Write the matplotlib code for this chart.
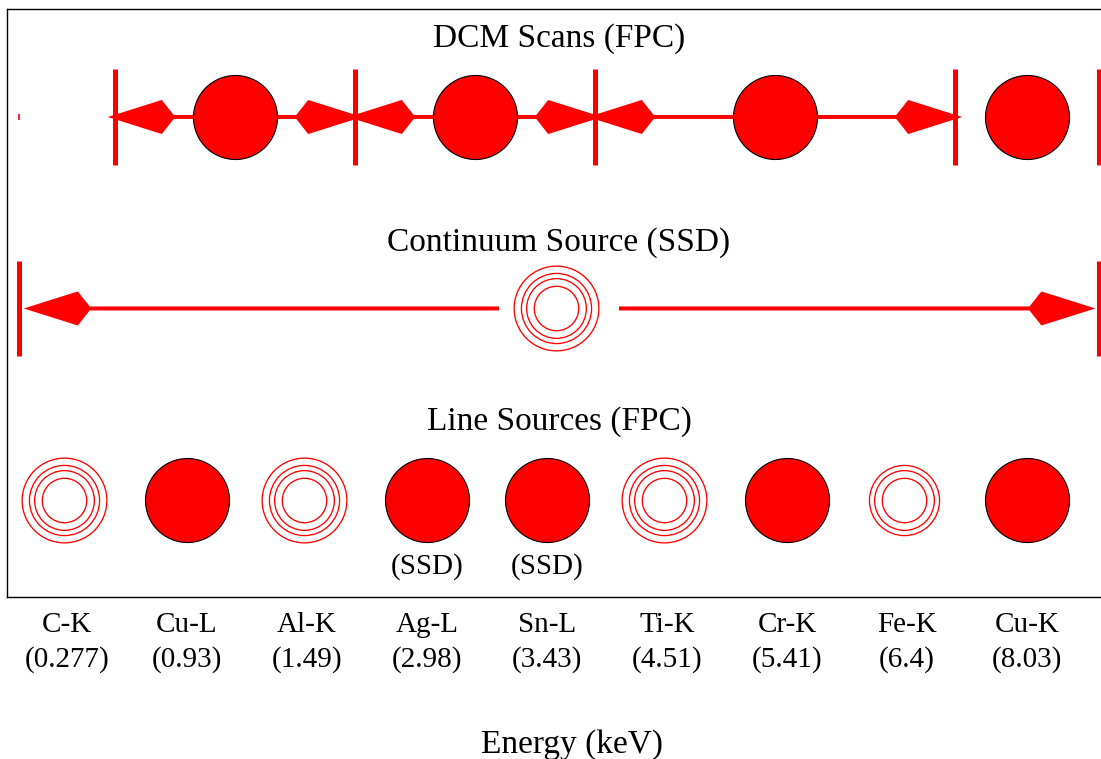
import matplotlib.pyplot as plt
from matplotlib import transforms
from matplotlib.patches import FancyArrow

plt.rcParams['font.family'] = ['Liberation Serif', 'DejaVu Serif']

# Line sources along the energy axis
labels = ['C-K', 'Cu-L', 'Al-K', 'Ag-L', 'Sn-L', 'Ti-K', 'Cr-K', 'Fe-K', 'Cu-K']
energies = ['0.277', '0.93', '1.49', '2.98', '3.43', '4.51', '5.41', '6.4', '8.03']
line_rings = [4, 0, 4, 0, 0, 4, 0, 3, 0]          # 0 = filled circle
line_ssd = [False, False, False, True, True, False, False, False, False]

# DCM scans: scan boundaries (in category units) and which segments get arrows
dcm_edges = [0.4, 2.4, 4.4, 7.4, 8.6]
dcm_arrows = [True, True, True, False]
dcm_stub = -0.4

# Continuum source
cont_start, cont_end = -0.4, 8.6
cont_center = 4.1
cont_rings = 4

RED = '#ff0000'
ring_sizes = [61, 50.5, 43, 32]
fill_size = 60.5
hl, hw, sw, oh = 0.45, 0.178, 0.021, -0.22
bar_half = 0.25

fig = plt.figure(figsize=(11.01, 7.59), dpi=100)
ax = fig.add_axes([7 / 1101, 162 / 759, 1104 / 1101, 588 / 759])
ax.set_xlim(-0.5, 8.7)
ax.set_ylim(-0.507, 2.564)
ring_tr = transforms.offset_copy(ax.transData, fig, x=-3.5, y=0, units='dots')


def arrow(x0, x1, y):
    ax.add_patch(FancyArrow(x0, y, x1 - x0, 0, width=sw, head_width=hw,
                            head_length=hl, overhang=oh,
                            length_includes_head=True, color=RED, lw=0, zorder=2))


def rings(x, y, n):
    for s in ring_sizes[len(ring_sizes) - n:]:
        ax.plot(x, y, 'o', ms=s, mfc='none', mec=RED, mew=0.95,
                transform=ring_tr, zorder=3)


def filled(x, y):
    ax.plot(x, y, 'o', ms=fill_size, mfc=RED, mec='black', mew=0.8, zorder=3)


# DCM scans row
y = 2
ax.vlines(dcm_edges, y - bar_half, y + bar_half, color=RED, lw=3.6, zorder=2)
ax.vlines([dcm_stub], y - 0.015, y + 0.015, color=RED, lw=1.2, zorder=2)
for a, b, show in zip(dcm_edges[:-1], dcm_edges[1:], dcm_arrows):
    mid = (a + b) / 2
    if show:
        arrow(mid, a - 0.06, y)
        arrow(mid, b + 0.06, y)
    filled(mid, y)
ax.text(cont_center, y + 0.412, 'DCM Scans (FPC)', ha='center', va='center', fontsize=24)

# Continuum row
y = 1
ax.vlines([cont_start, cont_end], y - bar_half, y + bar_half, color=RED, lw=3.6, zorder=2)
arrow(cont_center - 0.5, cont_start + 0.04, y)
arrow(cont_center + 0.5, cont_end - 0.03, y)
rings(cont_center, y, cont_rings)
ax.text(cont_center, y + 0.344, 'Continuum Source (SSD)', ha='center', va='center', fontsize=24)

# Line sources row
y = 0
for i, (n, ssd) in enumerate(zip(line_rings, line_ssd)):
    if n == 0:
        filled(i, y)
    else:
        rings(i, y, n)
    if ssd:
        ax.text(i, y - 0.35, '(SSD)', ha='center', va='center', fontsize=21)
ax.text(cont_center, y + 0.41, 'Line Sources (FPC)', ha='center', va='center', fontsize=24)

ax.set_xticks(range(len(labels)))
ax.set_xticklabels([f'{l}\n({e})' for l, e in zip(labels, energies)], fontsize=21,
                   linespacing=1.38)
ax.tick_params(axis='x', length=0, pad=11)
ax.set_yticks([])
for s in ax.spines.values():
    s.set_linewidth(1.0)

fig.text(572 / 1101, 1 - 745 / 759, 'Energy (keV)', ha='center', va='center', fontsize=24)

fig.savefig('out.png', dpi=100)
